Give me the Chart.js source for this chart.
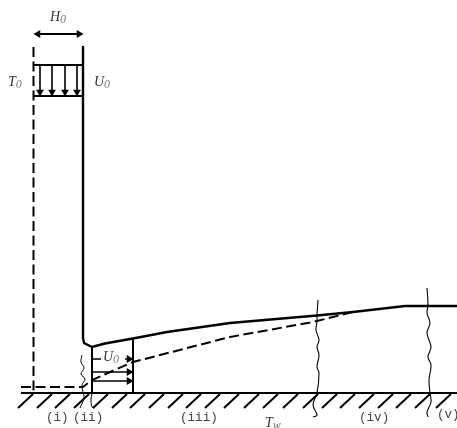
<!DOCTYPE html>
<html><head><meta charset="utf-8">
<script src="https://cdn.jsdelivr.net/npm/chart.js@4/dist/chart.umd.min.js"></script>
<style>html,body{margin:0;padding:0;background:#fff}canvas{display:block;filter:blur(0.4px)}</style>
</head><body><canvas id="c" width="457" height="428"></canvas>
<script>
// Diagram values, in diagram units (x along the wall, y downwards)
const freeSurface=[[83,47],[83,338],[84,343],[92,347],[105,343.5],[133,338.5],[167,332],[230,323],[317,315.5],[353,312],[405,306],[457,306]];
const boundaryEdge=[[21,387],[83,387],[92,380],[133,362],[230,337],[313,322],[353,312]];
const leftEdge=[[33.5,47],[33.5,392]];
const wall=[[21,393],[457,393]];
const topBars=[[33,65],[83,65],null,[33,96],[83,96]];
const widthArrow=[[37,34],[80,34]];
const widthArrowHeadsLeft=[[38,34]];
const widthArrowHeadsRight=[[79,34]];
const inletShafts=[[40,65],[40,92],null,[52,65],[52,92],null,[65,65],[65,92],null,[77,65],[77,92]];
const inletHeads=[[40,92],[52,92],[65,92],[77,92]];
const profileBars=[[92,347],[92,393],null,[133,339],[133,393]];
const profileShafts=[[92,359],[101,359],null,[125,359],[130,359],null,[92,372],[129,372],null,[92,381],[129,381]];
const profileHeads=[[129,359],[129,372],[129,381]];
const hatchBottoms=[18,37,55,74,93,112,130,149,168,186,205,224,244,263,283,303,322,340,359,378,396,415,436];
const waveA=[[82,355],[81,362],[84,368],[81,374],[85,379],[82,385],[83,392],[84,398],[80,408]];
const waveB=[[92,393],[91,400],[92,407],[94,408]];
const waveC=[[318,300],[317,315],[317,322],[316,330],[319,340],[317,347],[319,355],[317,367],[319,373],[317,393],[313,405],[317,415],[313,417]];
const waveD=[[427,288],[428,305],[427,313],[430,323],[427,333],[431,347],[428,357],[431,365],[429,380],[430,393],[431,402],[427,412],[428,417]];
const mathLabels=[["H","0",50,17],["T","0",8,82],["U","0",94,82],["U","0",103,357],["T","w",265,423]];
const regionLabels=[["(i)",46,421],["(ii)",73,421],["(iii)",180,421],["(iv)",359,421],["(v)",437,418]];

const pts=a=>a.map(p=>p?{x:p[0],y:p[1]}:{x:null,y:null});
const hatch=[];
hatchBottoms.forEach((b,i)=>{ if(i) hatch.push(null); hatch.push([b,408],[b+15,394]); });
const line=(d,w,extra)=>Object.assign({data:pts(d),showLine:true,borderColor:'#000',borderWidth:w,pointRadius:0,spanGaps:false,tension:0,clip:false},extra||{});
const head=(d,rot,r)=>({data:pts(d),showLine:false,pointStyle:'triangle',pointRotation:rot,pointRadius:r,pointBackgroundColor:'#000',pointBorderColor:'#000',pointBorderWidth:0,clip:false});
const textPlugin={id:'diagramText',afterDatasetsDraw(ch){
  const c=ch.ctx,X=ch.scales.x,Y=ch.scales.y;
  c.save();c.textBaseline='alphabetic';c.textAlign='left';
  mathLabels.forEach(([b,s,x,y])=>{
    const px=X.getPixelForValue(x),py=Y.getPixelForValue(y)+4;
    c.fillStyle='#333';c.font='italic 14px "Liberation Serif"';c.fillText(b,px,py);
    const w=c.measureText(b).width;
    c.fillStyle='#777';c.font='italic 12px "Liberation Serif"';c.fillText(s,px+w,py+2);
  });
  c.fillStyle='#444';c.font='12.6px "Liberation Mono"';
  regionLabels.forEach(([t,x,y])=>c.fillText(t,X.getPixelForValue(x),Y.getPixelForValue(y)));
  c.restore();
}};
new Chart(document.getElementById('c'),{
  type:'scatter',
  data:{datasets:[
    line(freeSurface,2.4,{borderJoinStyle:'round'}),
    line(boundaryEdge,2,{borderDash:[10,4.5]}),
    line(leftEdge,2,{borderDash:[10,4.5]}),
    line(wall,2.2),
    line(topBars,1.8),
    line(widthArrow,1.8),
    head(widthArrowHeadsLeft,270,4.5),
    head(widthArrowHeadsRight,90,4.5),
    line(inletShafts,1.6),
    head(inletHeads,180,4.5),
    line(profileBars,2),
    line(profileShafts,1.6),
    head(profileHeads,90,4.5),
    line(hatch,2),
    line(waveA,1,{tension:0.4}),
    line(waveB,1,{tension:0.4}),
    line(waveC,1.1,{tension:0.4}),
    line(waveD,1.1,{tension:0.4})
  ]},
  options:{
    responsive:false,animation:false,
    layout:{padding:0,autoPadding:false},
    plugins:{legend:{display:false},tooltip:{enabled:false},title:{display:false}},
    scales:{
      x:{type:'linear',display:false,min:0,max:457},
      y:{type:'linear',display:false,min:0,max:428,reverse:true}
    }
  },
  plugins:[textPlugin]
});
</script></body></html>
